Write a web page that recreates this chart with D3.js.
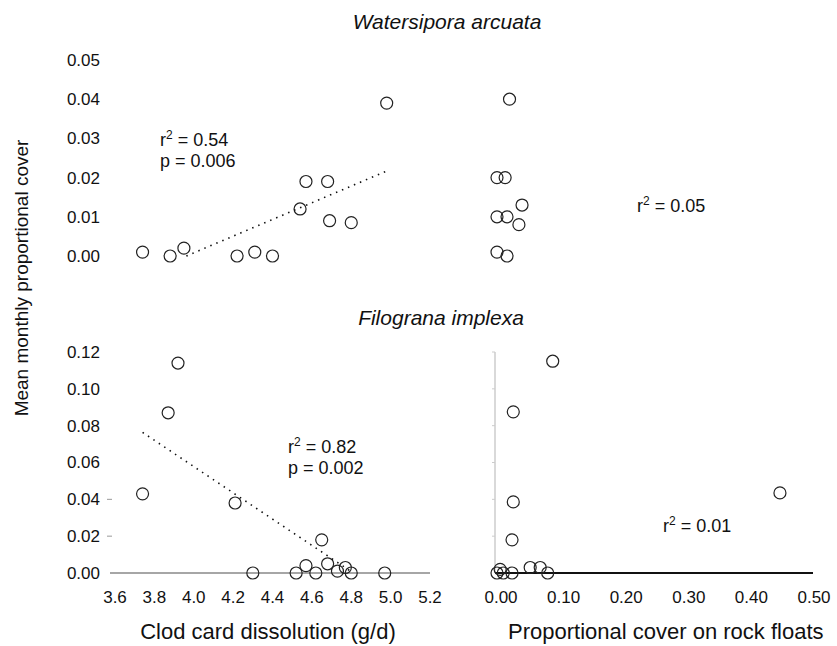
<!DOCTYPE html>
<html>
<head>
<meta charset="utf-8">
<script src="https://cdn.jsdelivr.net/npm/d3@7"></script>
<style>
  body { margin: 0; background: #fff; }
  text { font-family: "Liberation Sans", Arial, sans-serif; fill: #111; }
</style>
</head>
<body>
<div id="chart"></div>
<script>
// tick labels
var dissolutionTicks = [3.6, 3.8, 4.0, 4.2, 4.4, 4.6, 4.8, 5.0, 5.2];
var floatTicks = [0, 0.1, 0.2, 0.3, 0.4, 0.5];
var topTicks = [0, 0.01, 0.02, 0.03, 0.04, 0.05];
var bottomTicks = [0, 0.02, 0.04, 0.06, 0.08, 0.10, 0.12];

// Watersipora vs clod card dissolution
var wsDissolution = [3.74, 3.88, 3.95, 4.22, 4.31, 4.40, 4.54, 4.57, 4.68, 4.69, 4.80, 4.98];
var wsCoverA      = [0.001, 0.000, 0.002, 0.000, 0.001, 0.000, 0.012, 0.019, 0.019, 0.009, 0.0085, 0.039];
var wsFit = [-0.0844, 0.0213];   // intercept, slope

// Watersipora vs rock floats
var wsFloat  = [0.020, 0.000, 0.013, 0.040, 0.000, 0.016, 0.035, 0.000, 0.016];
var wsCoverB = [0.040, 0.020, 0.020, 0.013, 0.010, 0.010, 0.008, 0.001, 0.000];

// Filograna vs clod card dissolution
var fiDissolution = [3.74, 3.87, 3.92, 4.21, 4.30, 4.52, 4.57, 4.62, 4.65, 4.68, 4.73, 4.77, 4.80, 4.97];
var fiCoverA      = [0.043, 0.087, 0.114, 0.038, 0.000, 0.000, 0.004, 0.000, 0.018, 0.005, 0.001, 0.003, 0.000, 0.000];
var fiFit = [0.343, -0.0713];

// Filograna vs rock floats
var fiFloat  = [0.089, 0.026, 0.026, 0.024, 0.452, 0.000, 0.005, 0.010, 0.024, 0.053, 0.069, 0.081];
var fiCoverB = [0.115, 0.0875, 0.0386, 0.018, 0.0435, 0.000, 0.002, 0.000, 0.000, 0.003, 0.003, 0.000];

var stats = [
  {r2: "0.54", p: "0.006"},
  {r2: "0.05"},
  {r2: "0.82", p: "0.002"},
  {r2: "0.01"}
];

var svg = d3.select("#chart").append("svg")
    .attr("width", 837)
    .attr("height", 646);

var xDis = d3.scaleLinear().domain([3.6, 5.2]).range([115, 430]);
var xFlo = d3.scaleLinear().domain([0, 0.5]).range([497, 810]);
var yTop = d3.scaleLinear().domain([0, 0.05]).range([256, 60]);
var yBot = d3.scaleLinear().domain([0, 0.12]).range([573, 352]);

var fs = 17;

// titles
svg.append("text").attr("x", 447).attr("y", 29)
    .attr("text-anchor", "middle").style("font-size", "21px").style("font-style", "italic")
    .text("Watersipora arcuata");
svg.append("text").attr("x", 441).attr("y", 325)
    .attr("text-anchor", "middle").style("font-size", "21px").style("font-style", "italic")
    .text("Filograna implexa");

// y tick labels (left column only)
function yLabels(scale, ticks, fmt) {
  svg.append("g").selectAll("text")
    .data(ticks).enter().append("text")
    .attr("x", 100)
    .attr("y", function(d) { return scale(d); })
    .attr("dy", "0.35em")
    .attr("text-anchor", "end")
    .style("font-size", fs + "px")
    .text(function(d) { return d3.format(fmt)(d); });
}
yLabels(yTop, topTicks, ".2f");
yLabels(yBot, bottomTicks, ".2f");

// faint y ticks bottom-left
svg.append("g").selectAll("line")
  .data(bottomTicks.slice(1, 3)).enter().append("line")
  .attr("x1", 107).attr("x2", 112)
  .attr("y1", function(d) { return yBot(d); })
  .attr("y2", function(d) { return yBot(d); })
  .attr("stroke", "#999");

// bottom-left x axis
svg.append("line")
  .attr("x1", xDis(3.6) - 5).attr("x2", xDis(5.2))
  .attr("y1", yBot(0)).attr("y2", yBot(0))
  .attr("stroke", "#888").attr("stroke-width", 1.5);
svg.append("g").selectAll("text")
  .data(dissolutionTicks).enter().append("text")
  .attr("x", function(d) { return xDis(d); })
  .attr("y", 603)
  .attr("text-anchor", "middle")
  .style("font-size", fs + "px")
  .text(function(d) { return d3.format(".1f")(d); });

// bottom-right axes
svg.append("line")
  .attr("x1", xFlo(0) - 2).attr("x2", xFlo(0) - 2)
  .attr("y1", yBot(0.12)).attr("y2", yBot(0))
  .attr("stroke", "#ccc").attr("stroke-width", 1.5);
svg.append("g").selectAll("line")
  .data(bottomTicks.slice(1)).enter().append("line")
  .attr("x1", xFlo(0) - 5).attr("x2", xFlo(0) - 2)
  .attr("y1", function(d) { return yBot(d); })
  .attr("y2", function(d) { return yBot(d); })
  .attr("stroke", "#ccc");
svg.append("line")
  .attr("x1", xFlo(0) - 2).attr("x2", xFlo(0.5) + 3)
  .attr("y1", yBot(0)).attr("y2", yBot(0))
  .attr("stroke", "#111").attr("stroke-width", 1.8);
svg.append("g").selectAll("text")
  .data(floatTicks).enter().append("text")
  .attr("x", function(d) { return xFlo(d) + 4; })
  .attr("y", 603)
  .attr("text-anchor", "middle")
  .style("font-size", fs + "px")
  .text(function(d) { return d3.format(".2f")(d); });

// axis titles
svg.append("text").attr("x", 268).attr("y", 639)
  .attr("text-anchor", "middle").style("font-size", "22px")
  .text("Clod card dissolution (g/d)");
svg.append("text").attr("x", 508).attr("y", 639)
  .style("font-size", "22px")
  .text("Proportional cover on rock floats");
svg.append("text")
  .attr("transform", "translate(28,278) rotate(-90)")
  .attr("text-anchor", "middle").style("font-size", "19px")
  .text("Mean monthly proportional cover");

// points
function points(xs, ys, xScale, yScale) {
  svg.append("g").selectAll("circle")
    .data(xs).enter().append("circle")
    .attr("cx", function(d) { return xScale(d); })
    .attr("cy", function(d, i) { return yScale(ys[i]); })
    .attr("r", 6)
    .attr("fill", "none")
    .attr("stroke", "#222")
    .attr("stroke-width", 1.2);
}
points(wsDissolution, wsCoverA, xDis, yTop);
points(wsFloat, wsCoverB, xFlo, yTop);
points(fiDissolution, fiCoverA, xDis, yBot);
points(fiFloat, fiCoverB, xFlo, yBot);

// regression lines, drawn over the data range, kept above zero
function fitLine(fit, xs, xScale, yScale) {
  var x0 = d3.min(xs), x1 = d3.max(xs);
  var xz = -fit[0] / fit[1];
  if (fit[1] > 0) x0 = Math.max(x0, xz); else x1 = Math.min(x1, xz);
  svg.append("line")
    .attr("x1", xScale(x0)).attr("y1", yScale(fit[0] + fit[1] * x0))
    .attr("x2", xScale(x1)).attr("y2", yScale(fit[0] + fit[1] * x1))
    .attr("stroke", "#111").attr("stroke-width", 1.6)
    .attr("stroke-dasharray", "1.5,5");
}
fitLine(wsFit, wsDissolution, xDis, yTop);
fitLine(fiFit, fiDissolution, xDis, yBot);

// stats text
var statPos = [[160, 146], [637, 212], [288, 453], [663, 532]];
stats.forEach(function(s, i) {
  var t = svg.append("text").attr("x", statPos[i][0]).attr("y", statPos[i][1])
    .style("font-size", "18px");
  t.append("tspan").text("r");
  t.append("tspan").attr("dy", -7).style("font-size", "12px").text("2");
  t.append("tspan").attr("dy", 7).text(" = " + s.r2);
  if (s.p) {
    svg.append("text").attr("x", statPos[i][0]).attr("y", statPos[i][1] + 21)
      .style("font-size", "18px")
      .text("p = " + s.p);
  }
});
</script>
</body>
</html>
